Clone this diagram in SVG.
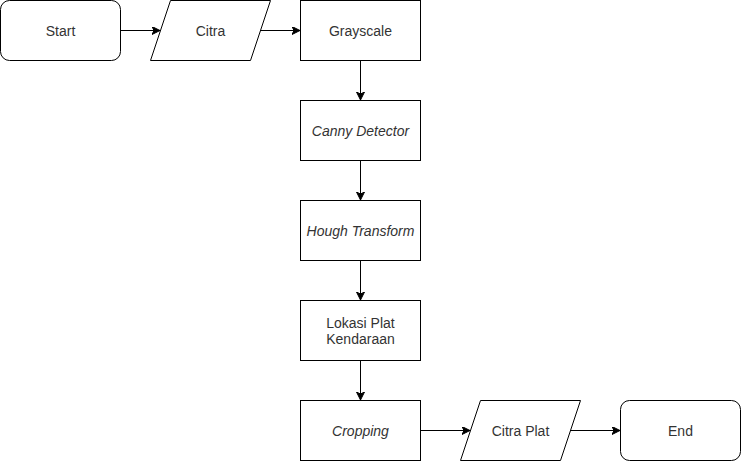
<svg xmlns="http://www.w3.org/2000/svg" width="741" height="461" viewBox="0 0 741 461">
<style>
.s{fill:#fff;stroke:#000;stroke-width:1}
.t{font-family:"Liberation Sans",Arial,sans-serif;font-size:14px;fill:#333;text-anchor:middle;dominant-baseline:central}
.i{font-style:italic}
.c{fill:none;stroke:#000;stroke-width:1}
</style>
<defs>
<marker id="a" markerUnits="userSpaceOnUse" markerWidth="10" markerHeight="10" refX="8" refY="4" orient="auto">
<path d="M0,0 L8,4 L0,8 L2,4 Z" fill="#000" stroke="#000" stroke-width="1"/>
</marker>
</defs>
<rect width="741" height="461" fill="#fff"/>
<g id="connectors">
<path class="c" d="M120.5,30.5 H160" marker-end="url(#a)"/>
<path class="c" d="M260,30.5 H300" marker-end="url(#a)"/>
<path class="c" d="M360.5,60.5 V100" marker-end="url(#a)"/>
<path class="c" d="M360.5,160.5 V200" marker-end="url(#a)"/>
<path class="c" d="M360.5,260.5 V300" marker-end="url(#a)"/>
<path class="c" d="M360.5,360.5 V400" marker-end="url(#a)"/>
<path class="c" d="M420.5,430.5 H470" marker-end="url(#a)"/>
<path class="c" d="M570,430.5 H620" marker-end="url(#a)"/>
</g>
<g id="start"><rect class="s" x="0.5" y="0.5" width="120" height="60" rx="9"/><text class="t" x="60.5" y="30.5">Start</text></g>
<g id="citra"><path class="s" d="M170.5,0.5 H270.5 L250.5,60.5 H150.5 Z"/><text class="t" x="210.5" y="30.5">Citra</text></g>
<g id="grayscale"><rect class="s" x="300.5" y="0.5" width="120" height="60"/><text class="t" x="360.5" y="30.5">Grayscale</text></g>
<g id="canny"><rect class="s" x="300.5" y="100.5" width="120" height="60"/><text class="t i" x="360.5" y="130.5">Canny Detector</text></g>
<g id="hough"><rect class="s" x="300.5" y="200.5" width="120" height="60"/><text class="t i" x="360.5" y="230.5">Hough Transform</text></g>
<g id="lokasi"><rect class="s" x="300.5" y="300.5" width="120" height="60"/><text class="t" x="360.5" y="322.5">Lokasi Plat</text><text class="t" x="360.5" y="338.5">Kendaraan</text></g>
<g id="cropping"><rect class="s" x="300.5" y="400.5" width="120" height="60"/><text class="t i" x="360.5" y="430.5">Cropping</text></g>
<g id="citraplat"><path class="s" d="M480.5,400.5 H580.5 L560.5,460.5 H460.5 Z"/><text class="t" x="520.5" y="430.5">Citra Plat</text></g>
<g id="end"><rect class="s" x="620.5" y="400.5" width="120" height="60" rx="9"/><text class="t" x="680.5" y="430.5">End</text></g>
</svg>
